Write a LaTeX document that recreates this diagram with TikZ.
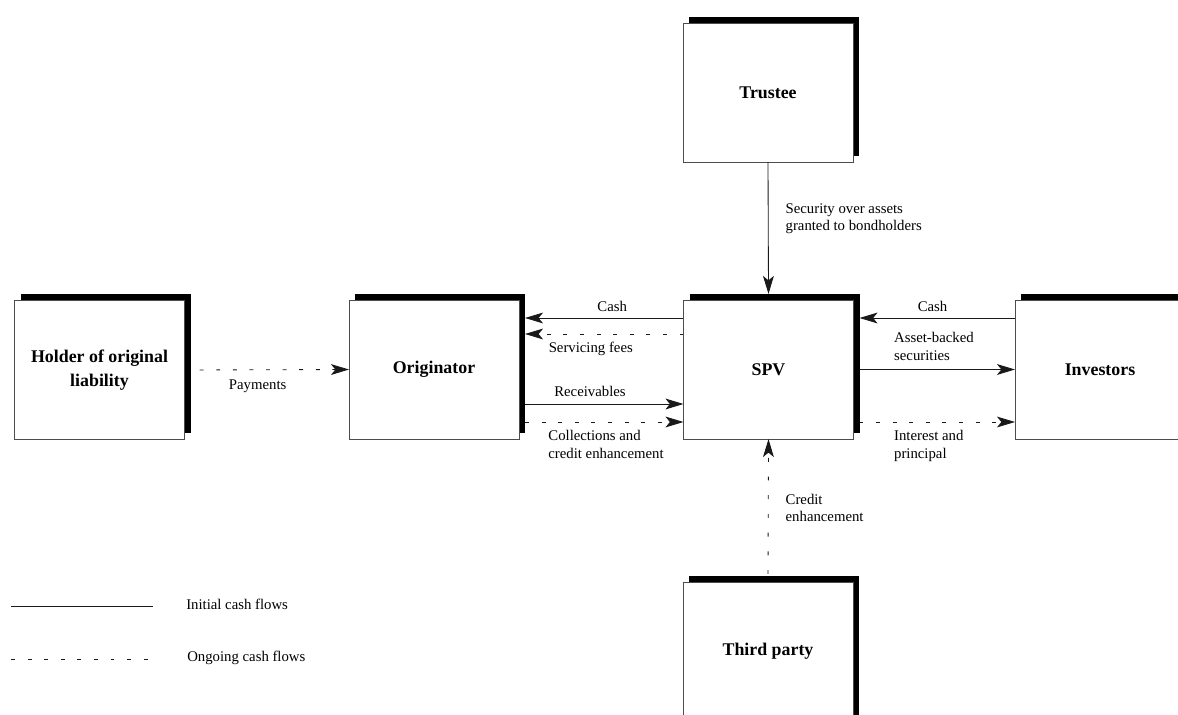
\documentclass[tikz,border=0pt]{standalone}
\usepackage{fontspec}
\setmainfont{Liberation Serif}
\usetikzlibrary{arrows.meta,calc,shadows}

\begin{document}
\begin{tikzpicture}[x = 0.025cm, y = -0.025cm,
  party/.style = {draw = gray!60!black, fill = white, line width = 0.6pt,
    minimum width = 4.25cm, minimum height = 3.475cm, inner sep = 0pt, outer sep = 0pt,
    align = center, font = \bfseries\fontsize{12.7}{17}\selectfont,
    drop shadow = {shadow xshift = 4.6pt, shadow yshift = 4.3pt, opacity = 1, fill = black}},
  flow/.style = {draw = black!90, line width = 0.6pt,
    -{Stealth[length = 4.5mm, width = 2.7mm, inset = 1.1mm]}},
  ongoing/.style = {flow, dash pattern = on 2.8pt off 9pt},
  note/.style = {font = \fontsize{10.5}{12.5}\selectfont, inner sep = 0pt, align = left}]
\useasboundingbox (0,0) rectangle (1178,715);

\node[party] (holder) at (99.5,370) {Holder of original\\liability};
\node[party] (orig) at (434,369.5) {Originator};
\node[party] (spv) at (768.5,369.5) {SPV};
\node[party] (inv) at (1100,369.5) {Investors};
\node[party] (trustee) at (768,92.5) {Trustee};
\node[party] (third) at (768,651.5) {Third party};

\draw[flow] (trustee.south) -- node[note, pos = 0.43, anchor = west, xshift = 0.425cm] {Security over assets\\granted to bondholders} ($(spv.north)+(0,-6)$);
\draw[ongoing, dash pattern = on 2.8pt off 10.5pt] ($(third.north)+(0,-8)$) -- node[note, pos = 0.49, anchor = west, xshift = 0.425cm] {Credit\\enhancement} (spv.south);

\draw[ongoing, dash phase = 6pt] ($(holder.east)+(7,0)$) -- node[note, pos = 0.42, below = 0.25cm] {Payments} (orig.west);

\draw[flow] ($(spv.west)+(0,-51.5)$) -- node[note, pos = 0.45, above = 0.15cm] {Cash} ($(orig.east)+(6,-51.5)$);
\draw[ongoing] ($(spv.west)+(0,-35.5)$) -- node[note, pos = 0.585, below = 0.18cm] {Servicing fees} ($(orig.east)+(6,-35.5)$);
\draw[flow] ($(orig.east)+(6,34.5)$) -- node[note, pos = 0.41, above = 0.18cm] {Receivables} ($(spv.west)+(0,34.5)$);
\draw[ongoing] ($(orig.east)+(6,52.5)$) -- node[note, pos = 0.145, anchor = north west, yshift = -0.2cm] {Collections and\\credit enhancement} ($(spv.west)+(0,52.5)$);

\draw[flow] ($(inv.west)+(0,-51.5)$) -- node[note, pos = 0.53, above = 0.15cm] {Cash} ($(spv.east)+(6,-51.5)$);
\draw[flow] ($(spv.east)+(6,0)$) -- node[note, pos = 0.22, anchor = south west, yshift = 0.22cm] {Asset-backed\\securities} (inv.west);
\draw[ongoing] ($(spv.east)+(6,52.5)$) -- node[note, pos = 0.22, anchor = north west, yshift = -0.2cm] {Interest and\\principal} ($(inv.west)+(0,52.5)$);

\coordinate (solidA) at (11,606);
\coordinate (solidB) at (153,606);
\coordinate (dashA) at (11,659);
\coordinate (dashB) at (152,659);
\draw[draw = black!90, line width = 0.6pt] (solidA) -- (solidB);
\draw[draw = black!90, line width = 0.6pt, dash pattern = on 2.8pt off 9pt] (dashA) -- (dashB);
\node[note, anchor = west] (initial) at (186,604) {Initial cash flows};
\node[note, anchor = west] (ongoingtext) at (187,658) {Ongoing cash flows};
\end{tikzpicture}
\end{document}
